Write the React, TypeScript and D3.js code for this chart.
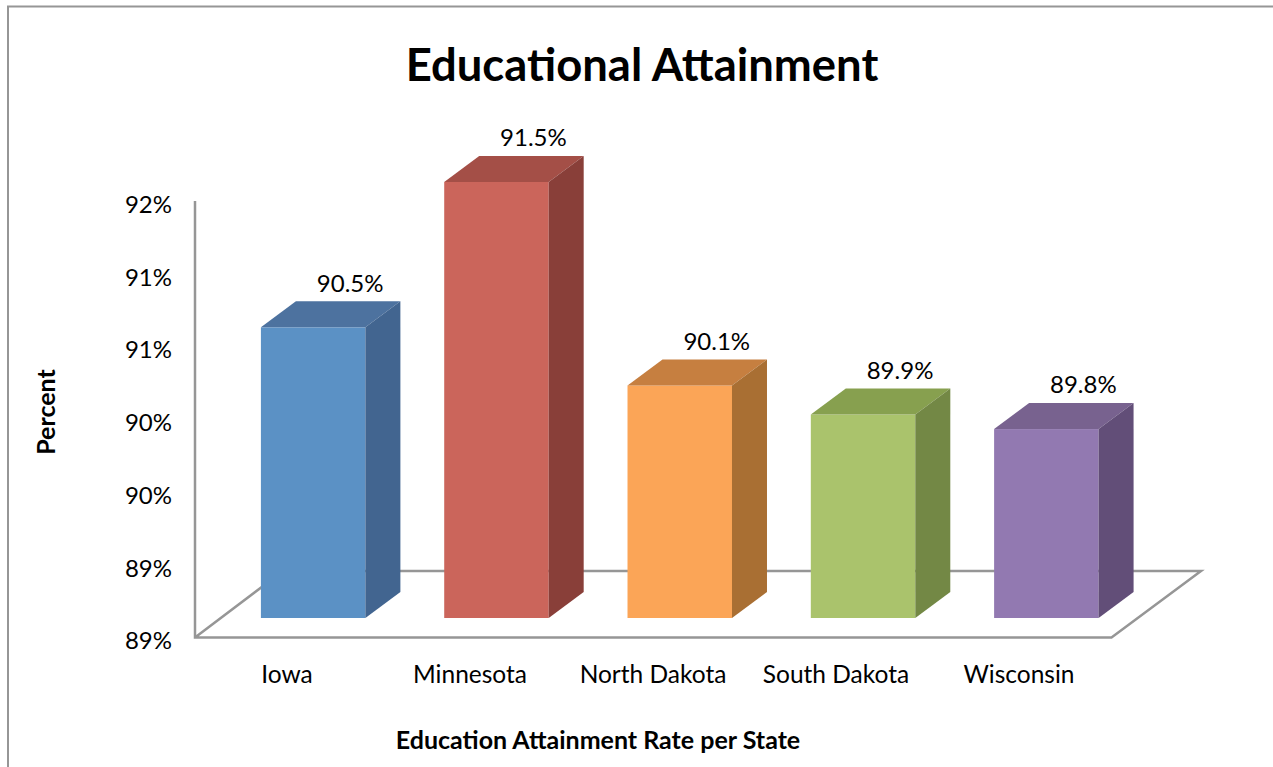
import React from "react";
import * as d3 from "d3";

const categories = ["Iowa", "Minnesota", "North Dakota", "South Dakota", "Wisconsin"];
const values = [90.5, 91.5, 90.1, 89.9, 89.8];
const valueLabels = ["90.5%", "91.5%", "90.1%", "89.9%", "89.8%"];
const tickValues = [88.5, 89, 89.5, 90, 90.5, 91, 91.5];
const tickLabels = ["89%", "89%", "90%", "90%", "91%", "91%", "92%"];
const frontColors = ["#5b91c5", "#cb655b", "#fba557", "#aac36c", "#9279b1"];
const topColors = ["#4d729f", "#a44f47", "#c67f40", "#87a04f", "#78628f"];
const sideColors = ["#426590", "#893f39", "#a96f33", "#738845", "#624e78"];

const FONT = "Lato, 'Open Sans', sans-serif";
const DEPTH_X = 35;
const DEPTH_Y = 26;

export default function App() {
  const axisY = d3.scaleLinear().domain([88.5, 91.5]).range([637.5, 201]);
  const barY = d3.scaleLinear().domain([88.5, 91.5]).range([618, 182]);
  const x = d3.scaleBand<string>().domain(categories).range([221.5, 1138]).paddingInner(0.43).paddingOuter(0.215);
  const labelX = d3.scalePoint<string>().domain(categories).range([287, 1019]);
  const w = x.bandwidth();
  const base = barY(88.5);
  return (
    <svg
      width={1273}
      height={767}
      style={{ position: "absolute", left: 0, top: 0, background: "#fff" }}
      fontFamily={FONT}
    >
      <path d="M8,767V6.5H1273" fill="none" stroke="#969696" strokeWidth={2} />
      <text x={642} y={81} textAnchor="middle" fontSize={45.4} fontWeight={700} fill="#000">
        Educational Attainment
      </text>

      <path d="M195,201V637.5H1111.5L1201,571H283L195,637.5" fill="none" stroke="#969696" strokeWidth={2.5} strokeLinejoin="miter" />

      {tickValues.map((t, i) => (
        <text key={i} x={172} y={axisY(t) + 3.5} dy="0.35em" textAnchor="end" fontSize={24} fill="#000">
          {tickLabels[i]}
        </text>
      ))}

      {categories.map((c, i) => {
        const x0 = x(c) as number;
        const y0 = barY(values[i]);
        return (
          <g key={c}>
            <rect x={x0} y={y0} width={w} height={base - y0} fill={frontColors[i]} />
            <path
              d={`M${x0},${y0}l${DEPTH_X},${-DEPTH_Y}h${w}l${-DEPTH_X},${DEPTH_Y}Z`}
              fill={topColors[i]}
            />
            <path
              d={`M${x0 + w},${y0}l${DEPTH_X},${-DEPTH_Y}V${base - DEPTH_Y}l${-DEPTH_X},${DEPTH_Y}Z`}
              fill={sideColors[i]}
            />
            <text x={x0 + w / 2 + 37} y={y0 - 44} dy="0.35em" textAnchor="middle" fontSize={24} fill="#000">
              {valueLabels[i]}
            </text>
            <text x={labelX(c)} y={674} dy="0.35em" textAnchor="middle" fontSize={24.5} fill="#000">
              {c}
            </text>
          </g>
        );
      })}

      <text
        transform="translate(55,412) rotate(-90)"
        textAnchor="middle"
        fontSize={25}
        fontWeight={700}
        fill="#000"
      >
        Percent
      </text>
      <text x={598} y={749} textAnchor="middle" fontSize={25} fontWeight={700} fill="#000">
        Education Attainment Rate per State
      </text>
    </svg>
  );
}
